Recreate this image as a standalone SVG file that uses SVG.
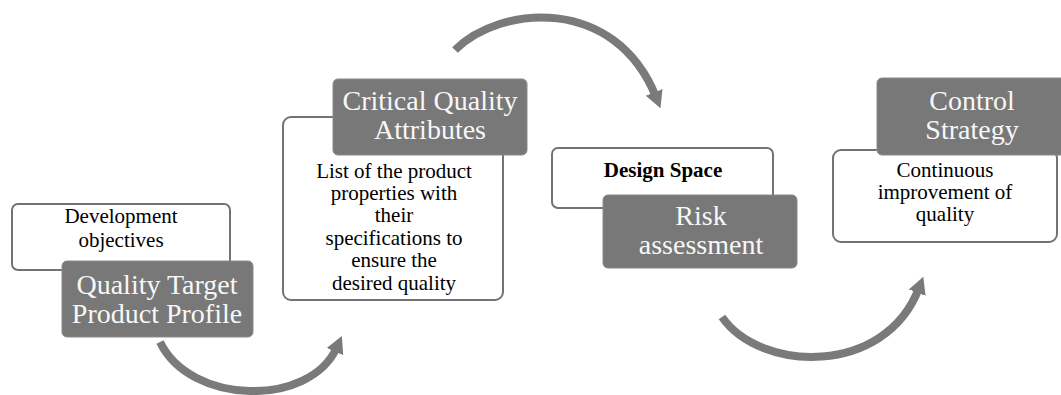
<svg xmlns="http://www.w3.org/2000/svg" width="1061" height="395" viewBox="0 0 1061 395">
<style>
.wb{fill:#ffffff;stroke:#737373;stroke-width:2}
.gb{fill:#787878;stroke:#8a8a8a;stroke-width:1}
.t{font-family:"Liberation Serif","Times New Roman",serif;text-anchor:middle}
.bt{font-size:21px;fill:#000000}
.gt{font-size:28px;fill:#f7f7f7}
.arr{fill:none;stroke:#7a7a7a;stroke-width:8;marker-end:url(#ah)}
</style>
<defs>
<marker id="ah" markerUnits="userSpaceOnUse" markerWidth="22" markerHeight="22" viewBox="0 0 22 22" refX="5" refY="11" orient="auto">
<path d="M0,2 L17,11 L0,20 Z" fill="#7a7a7a"/>
</marker>
</defs>
<rect width="1061" height="395" fill="#ffffff"/>
<g id="connectors">
<path class="arr" d="M160,342 C190,405 310,408 337,347"/>
<path class="arr" d="M455,50 C500,5 615,-5 656,97"/>
<path class="arr" d="M722,317 C760,372 885,377 919,288"/>
</g>
<g id="node1">
<rect class="wb" x="12" y="204" width="218" height="66" rx="6"/>
<text class="t bt" x="121" y="223">Development</text>
<text class="t bt" x="121" y="247">objectives</text>
<rect class="gb" x="62" y="261" width="191" height="76" rx="5"/>
<text class="t gt" x="157" y="294">Quality Target</text>
<text class="t gt" x="157" y="323">Product Profile</text>
</g>
<g id="node2">
<rect class="wb" x="283" y="117" width="220" height="183" rx="8"/>
<text class="t bt" x="394" y="178">List of the product</text>
<text class="t bt" x="394" y="200">properties with</text>
<text class="t bt" x="394" y="222">their</text>
<text class="t bt" x="394" y="245">specifications to</text>
<text class="t bt" x="394" y="267">ensure the</text>
<text class="t bt" x="394" y="290">desired quality</text>
<rect class="gb" x="333" y="79" width="194" height="76" rx="5"/>
<text class="t gt" x="430" y="110">Critical Quality</text>
<text class="t gt" x="430" y="139">Attributes</text>
</g>
<g id="node3">
<rect class="wb" x="552" y="148" width="221" height="60" rx="6"/>
<text class="t bt" x="663" y="177" font-weight="bold">Design Space</text>
<rect class="gb" x="603" y="195" width="194" height="73" rx="5"/>
<text class="t gt" x="701" y="225">Risk</text>
<text class="t gt" x="701" y="254">assessment</text>
</g>
<g id="node4">
<rect class="wb" x="833" y="150" width="224" height="92" rx="8"/>
<text class="t bt" x="945" y="177">Continuous</text>
<text class="t bt" x="945" y="199">improvement of</text>
<text class="t bt" x="945" y="221">quality</text>
<rect class="gb" x="877" y="78" width="190" height="77" rx="5"/>
<text class="t gt" x="972" y="110">Control</text>
<text class="t gt" x="972" y="139">Strategy</text>
</g>
</svg>
